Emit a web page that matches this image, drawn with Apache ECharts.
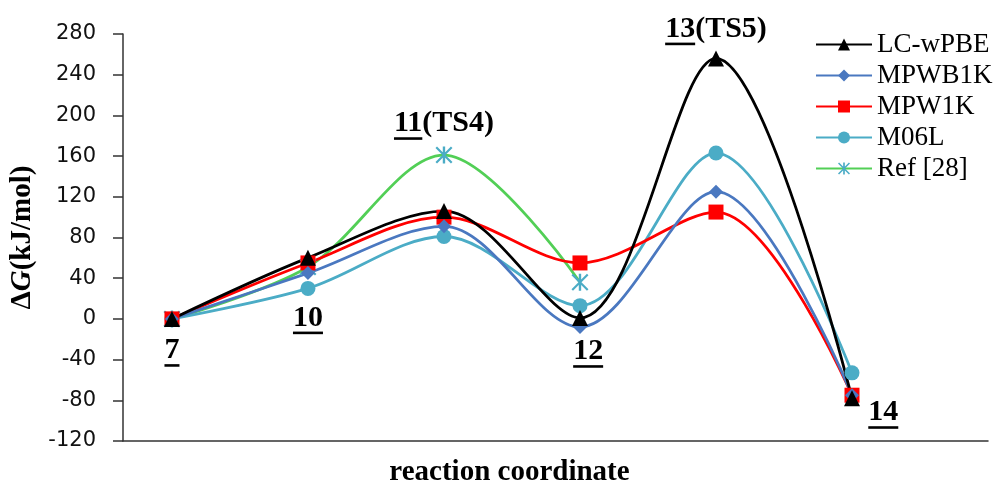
<!DOCTYPE html>
<html>
<head>
<meta charset="utf-8">
<script src="https://cdn.jsdelivr.net/npm/echarts@6/dist/echarts.min.js"></script>
<style>html,body{margin:0;padding:0;background:#fff}#c{width:995px;height:482px}</style>
</head>
<body>
<div id="c"></div>
<script>
// stage index along the reaction coordinate
const stages = [1, 2, 3, 4, 5, 6];
const stageNames = ['7', '10', '11', '12', '13', '14'];
const yTicks = [-120, -80, -40, 0, 40, 80, 120, 160, 200, 240, 280];

const lcwpbe = [0, 60, 106, 1, 256, -78];
const mpwb1k = [0, 45, 91, -8, 125, -75];
const mpw1k  = [0, 55, 100, 55, 105, -75];
const m06l   = [0, 30, 81, 13, 163, -53];
const ref28  = [0, 51, 161, 36, null, null];

// annotation labels (number part underlined) and their data-space anchors
const annotNum = ['7', '10', '11', '12', '13', '14'];
const annotSuffix = ['', '', '(TS4)', '', '(TS5)', ''];
const annotX = [1, 2, 3, 4.06, 5, 6.23];
const annotY = [-31, 1, 192, -32, 285, -92];

function pairs(arr) { return stages.map((s, i) => [s, arr[i]]); }

const asterisk = 'path://M-0.7,-5 L0.7,-5 L0.7,5 L-0.7,5 Z M-5,-4.1 L-4.1,-5 L5,4.1 L4.1,5 Z M4.1,-5 L5,-4.1 L-4.1,5 L-5,4.1 Z';

const chart = echarts.init(document.getElementById('c'), null, {renderer: 'canvas'});
const serif = '"Liberation Serif", "Times New Roman", serif';

function mk(name, data, color, symbol, size, symColor) {
  return {
    name: name, type: 'line', data: pairs(data), smooth: 0.33,
    symbol: symbol, symbolSize: size, showSymbol: true,
    lineStyle: {color: color, width: 2.8},
    itemStyle: {color: symColor || color, borderWidth: 0},
    emphasis: {disabled: true}, connectNulls: false
  };
}

const option = {
  animation: false,
  grid: {left: 123, right: 7, top: 34, bottom: 41, containLabel: false, outerBoundsMode: 'none'},
  legend: {
    orient: 'vertical', left: 810, top: 26,
    itemWidth: 56, itemHeight: 15, itemGap: 4,
    data: ['LC-wPBE', 'MPWB1K', 'MPW1K', 'M06L', 'Ref [28]'],
    textStyle: {fontFamily: serif, fontSize: 27, color: '#000'},
    selectedMode: false
  },
  xAxis: {
    type: 'value', min: 0.64, max: 7,
    axisLine: {show: true, onZero: false, lineStyle: {color: '#333', width: 1.5}},
    axisTick: {show: false}, axisLabel: {show: false}, splitLine: {show: false},
    name: 'reaction coordinate', nameLocation: 'middle', nameGap: 17,
    nameTextStyle: {fontFamily: serif, fontSize: 29, fontWeight: 'bold', color: '#000', padding: [0, 92, 0, 0]}
  },
  yAxis: {
    type: 'value', min: yTicks[0], max: yTicks[yTicks.length - 1], interval: 40,
    axisLine: {show: true, onZero: false, lineStyle: {color: '#333', width: 1.5}},
    axisTick: {show: true, inside: false, length: 10, lineStyle: {color: '#333', width: 1.5}},
    axisLabel: {fontFamily: '"DejaVu Sans", sans-serif', fontSize: 21, color: '#111', margin: 27},
    splitLine: {show: false},
    name: '{a|Δ}{g|G}{a|(kJ/mol)}', nameLocation: 'middle', nameGap: 86, nameRotate: 90,
    nameTextStyle: {
      rich: {
        a: {fontFamily: serif, fontSize: 29, fontWeight: 'bold', color: '#000'},
        g: {fontFamily: serif, fontSize: 29, fontWeight: 'bold', fontStyle: 'italic', color: '#000'}
      }
    }
  },
  series: [
    mk('Ref [28]', ref28, '#52cf56', asterisk, 17, '#4bacc6'),
    mk('M06L', m06l, '#4bacc6', 'circle', 15),
    mk('MPW1K', mpw1k, '#ff0000', 'rect', 15),
    mk('MPWB1K', mpwb1k, '#4a78c0', 'diamond', 14),
    mk('LC-wPBE', lcwpbe, '#000000', 'triangle', 16)
  ]
};
chart.setOption(option);

// annotations positioned from data coordinates
const ctx = document.createElement('canvas').getContext('2d');
const annFont = 'bold 30px "Liberation Serif"';
ctx.font = annFont;
const graphics = [];
for (let i = 0; i < annotNum.length; i++) {
  const p = chart.convertToPixel({gridIndex: 0}, [annotX[i], annotY[i]]);
  const full = annotNum[i] + annotSuffix[i];
  const wFull = ctx.measureText(full).width;
  const wNum = ctx.measureText(annotNum[i]).width;
  const left = p[0] - wFull / 2;
  graphics.push({
    type: 'text', x: left, y: p[1],
    style: {text: full, font: annFont, fill: '#000', textAlign: 'left', textVerticalAlign: 'middle'}
  });
  graphics.push({
    type: 'line', shape: {x1: left, y1: p[1] + 15, x2: left + wNum, y2: p[1] + 15},
    style: {stroke: '#000', lineWidth: 2.6}
  });
}
chart.setOption({graphic: graphics});
</script>
</body>
</html>
